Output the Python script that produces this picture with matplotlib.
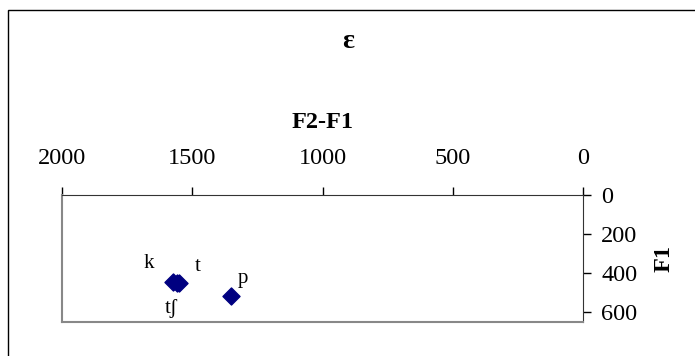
import matplotlib
matplotlib.use("Agg")
import matplotlib.pyplot as plt
from matplotlib.patches import Rectangle

labels = ["k", "t", "t\u0283", "p"]
f2f1 = [1575, 1550, 1560, 1350]
f1 = [445, 450, 452, 518]
label_offsets = [(-17, 13), (13, 12), (-4, -18), (8, 13)]

W, H = 695, 356
fig = plt.figure(figsize=(W / 100, H / 100), dpi=100)
plt.rcParams['font.family'] = ['Liberation Serif', 'DejaVu Serif']

fig.patches.append(Rectangle((8 / W, -0.1), 1.2, 1 - 10 / H + 0.1, transform=fig.transFigure,
                             fill=False, edgecolor='black', linewidth=1.0))

L, R, T, B = 62, 583, 195, 322
ax = fig.add_axes([L / W, 1 - B / H, (R - L) / W, (B - T) / H])
ax.scatter(f2f1, f1, marker='D', s=75, color='#000080', zorder=3)
for lab, x, y, (dx, dy) in zip(labels, f2f1, f1, label_offsets):
    ax.annotate(lab, (x, y), xytext=(dx, dy), textcoords='offset points',
                fontsize=15, ha='center', va='center')

ax.set_xlim(2000, 0)
ax.set_ylim(650, 0)
ax.set_xticks([2000, 1500, 1000, 500, 0])
ax.set_yticks([0, 200, 400, 600])
ax.xaxis.tick_top()
ax.xaxis.set_label_position('top')
ax.yaxis.tick_right()
ax.yaxis.set_label_position('right')
ax.tick_params(axis='both', labelsize=17.5, length=6, width=1, colors='black')
ax.tick_params(axis='x', pad=13)
ax.tick_params(axis='y', pad=7)
for s in ['top', 'right']:
    ax.spines[s].set_color('#333333')
for s in ['left', 'bottom']:
    ax.spines[s].set_color('#888888')
    ax.spines[s].set_linewidth(1.5)
ax.set_xlabel('F2-F1', fontsize=17.5, fontweight='bold', labelpad=14)
ax.set_ylabel('F1', fontsize=17.5, fontweight='bold', labelpad=12, rotation=90)
fig.text(348 / W, 1 - 42 / H, '\u025b', fontsize=20, fontweight='bold', ha='center', va='center')

fig.savefig('out.png', dpi=100)
